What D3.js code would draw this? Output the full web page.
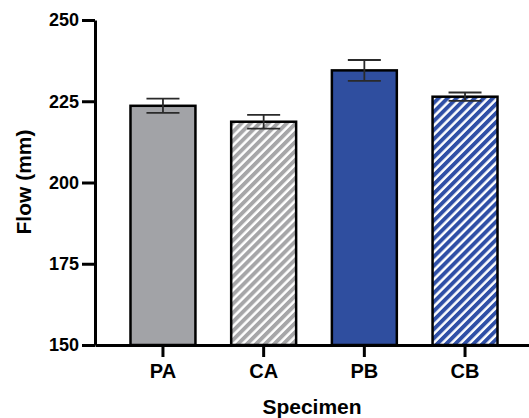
<!DOCTYPE html>
<html>
  <head>
    <meta charset="utf-8" />
    <script src="https://cdn.jsdelivr.net/npm/d3@7"></script>
    <style>
      body { margin: 0; background: #fff; }
      text { font-family: "Liberation Sans", Arial, sans-serif; font-weight: bold; fill: #000; }
    </style>
  </head>
  <body>
    <div id="chart"></div>
    <script>
      // values
      const specimens = ["PA", "CA", "PB", "CB"];
      const flowMeans = [223.6, 218.7, 234.5, 226.4];
      const flowErrors = [2.2, 2.1, 3.2, 1.3];
      const yTicks = [150, 175, 200, 225, 250];

      const fills = ["#a2a3a7", "url(#hatchGray)", "#2f4e9f", "url(#hatchBlue)"];

      const W = 529, H = 418;
      const svg = d3.select("#chart").append("svg")
        .attr("width", W)
        .attr("height", H);

      // hatch patterns
      let defs = svg.append("defs");
      function hatch(id, color) {
        let p = defs.append("pattern")
          .attr("id", id)
          .attr("patternUnits", "userSpaceOnUse")
          .attr("width", 6.4)
          .attr("height", 6.4)
          .attr("patternTransform", "rotate(45)");
        p.append("rect").attr("width", 6.4).attr("height", 6.4).attr("fill", "#fff");
        p.append("rect").attr("width", 3.9).attr("height", 6.4).attr("fill", color);
      }
      hatch("hatchGray", "#a6a6a8");
      hatch("hatchBlue", "#2f4fa6");

      let x = d3.scaleBand()
        .domain(specimens)
        .range([95, 533])
        .paddingInner(0.355)
        .paddingOuter(0.3525);

      let y = d3.scaleLinear()
        .domain([150, 250])
        .range([345, 20]);

      // bars
      svg.append("g")
        .selectAll("rect")
        .data(specimens)
        .enter()
        .append("rect")
        .attr("x", (d) => x(d))
        .attr("width", x.bandwidth())
        .attr("y", (d, i) => y(flowMeans[i]))
        .attr("height", (d, i) => y(150) - y(flowMeans[i]))
        .attr("fill", (d, i) => fills[i])
        .attr("stroke", "#000")
        .attr("stroke-width", 2.5);

      // error bars
      let capW = 33;
      let eb = svg.append("g")
        .attr("stroke", "#2a2a2a")
        .attr("stroke-width", 1.8)
        .selectAll("g")
        .data(specimens)
        .enter()
        .append("g");
      eb.append("line")
        .attr("x1", (d) => x(d) + x.bandwidth() / 2)
        .attr("x2", (d) => x(d) + x.bandwidth() / 2)
        .attr("y1", (d, i) => y(flowMeans[i] - flowErrors[i]))
        .attr("y2", (d, i) => y(flowMeans[i] + flowErrors[i]));
      eb.append("line")
        .attr("x1", (d) => x(d) + x.bandwidth() / 2 - capW / 2)
        .attr("x2", (d) => x(d) + x.bandwidth() / 2 + capW / 2)
        .attr("y1", (d, i) => y(flowMeans[i] + flowErrors[i]))
        .attr("y2", (d, i) => y(flowMeans[i] + flowErrors[i]));
      eb.append("line")
        .attr("x1", (d) => x(d) + x.bandwidth() / 2 - capW / 2)
        .attr("x2", (d) => x(d) + x.bandwidth() / 2 + capW / 2)
        .attr("y1", (d, i) => y(flowMeans[i] - flowErrors[i]))
        .attr("y2", (d, i) => y(flowMeans[i] - flowErrors[i]));

      // axes
      let xAxisGroup = svg.append("g")
        .attr("transform", "translate(0,345)")
        .call(d3.axisBottom(x).tickSize(12).tickSizeOuter(0).tickPadding(7));
      xAxisGroup.selectAll("text").attr("font-size", 20);

      let yAxisGroup = svg.append("g")
        .attr("transform", "translate(95,0)")
        .call(d3.axisLeft(y).tickValues(yTicks).tickSize(13).tickSizeOuter(0).tickPadding(3));
      yAxisGroup.selectAll("text").attr("font-size", 18);

      svg.selectAll(".domain, .tick line")
        .attr("stroke", "#000")
        .attr("stroke-width", 3);

      // axis titles
      svg.append("text")
        .attr("x", 312)
        .attr("y", 414)
        .attr("text-anchor", "middle")
        .attr("font-size", 21)
        .text("Specimen");

      svg.append("text")
        .attr("transform", "translate(31,182)rotate(-90)")
        .attr("text-anchor", "middle")
        .attr("font-size", 21)
        .text("Flow (mm)");
    </script>
  </body>
</html>
